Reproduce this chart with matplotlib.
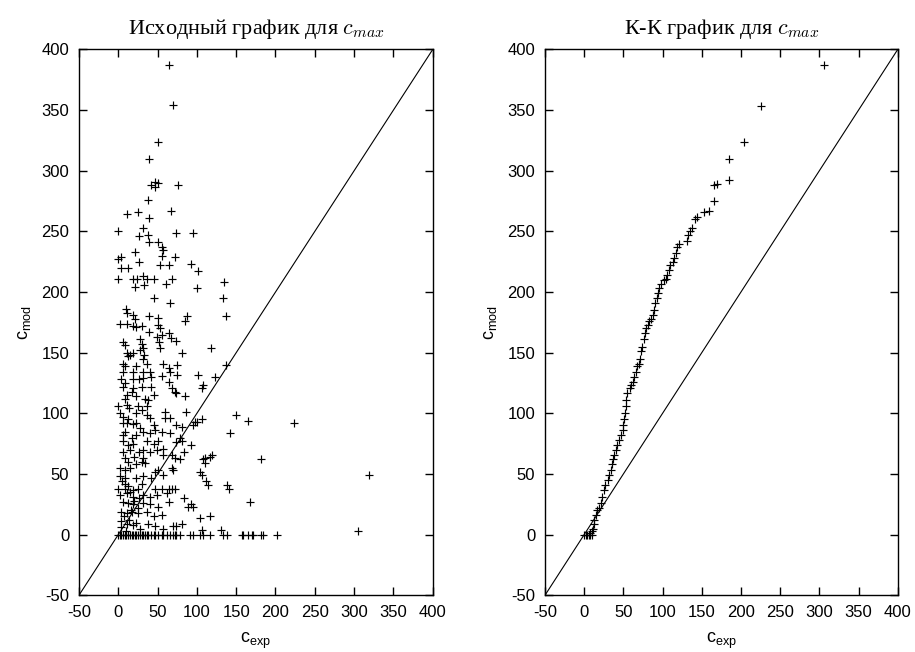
import numpy as np
import matplotlib.pyplot as plt

# points of the raw scatter: (c_exp, c_mod)
raw_points = [
    # upper sparse part
    (64, 387), (69, 354), (50, 324), (39, 310), (42, 288), (47, 291), (50, 290), (47, 287),
    (76, 288), (38, 276), (11, 264), (25, 266), (39, 261), (67, 267), (0, 250), (32, 253),
    (27, 246), (38, 247), (73, 249), (95, 249), (39, 241), (50, 241), (55, 237), (57, 235),
    (21, 233), (4, 229), (0, 227), (27, 225), (55, 230), (72, 229), (3, 220), (13, 220),
    (53, 222), (65, 222), (93, 223), (102, 217), (0, 211), (19, 211), (24, 211), (31, 213),
    (36, 211), (45, 211), (68, 211), (61, 207), (21, 204), (33, 206), (100, 203), (134, 208),
    # 130 .. 200
    (45, 195), (66, 191), (133, 195), (10, 186), (11, 183), (19, 181), (21, 178), (39, 180),
    (51, 179), (88, 180), (85, 176), (137, 180), (2, 174), (11, 174), (19, 172), (23, 171),
    (30, 172), (51, 173), (53, 170), (39, 167), (49, 163), (55, 165), (65, 166), (67, 162),
    (73, 160), (52, 159), (6, 159), (9, 156), (28, 161), (30, 157), (31, 154), (53, 154),
    (28, 152), (33, 148), (11, 150), (15, 148), (19, 150), (13, 147), (32, 145), (81, 150),
    (118, 154), (6, 141), (9, 139), (23, 139), (36, 141), (57, 141), (65, 137), (75, 140),
    (137, 140),
    # 100 .. 135
    (6, 134), (19, 134), (32, 134), (40, 134), (55, 131), (66, 134), (75, 132), (102, 132),
    (123, 130), (4, 128), (9, 125), (19, 128), (32, 129), (42, 130), (64, 126), (108, 123),
    (106, 121), (6, 122), (19, 121), (30, 122), (42, 122), (68, 121), (72, 118), (74, 117),
    (85, 114), (11, 115), (23, 114), (34, 112), (38, 111), (45, 115), (0, 106), (11, 107),
    (25, 106), (30, 103), (36, 106), (59, 101), (86, 101), (150, 99), (14, 104), (8, 112),
    (18, 118), (27, 128),
    # 60 .. 100
    (2, 100), (6, 97), (13, 95), (23, 100), (36, 99), (40, 96), (59, 96), (66, 96),
    (100, 93), (106, 95), (98, 93), (165, 94), (224, 92), (6, 92), (11, 92), (19, 91),
    (23, 92), (45, 90), (74, 90), (81, 89), (95, 90), (9, 85), (6, 82), (23, 82),
    (32, 85), (40, 84), (47, 86), (55, 85), (66, 84), (142, 84), (78, 80), (6, 77),
    (13, 74), (19, 75), (36, 77), (45, 75), (51, 77), (74, 76), (81, 77), (93, 74),
    (6, 68), (15, 70), (32, 70), (40, 68), (49, 70), (57, 71), (57, 66), (68, 66),
    (83, 68), (119, 66), (9, 63), (32, 63), (72, 63), (110, 63), (182, 62), (17, 80),
    (28, 88), (12, 60), (20, 64), (26, 68),
    # 0 .. 60
    (78, 62), (108, 62), (110, 59), (117, 64), (2, 55), (9, 53), (15, 55), (23, 58),
    (30, 60), (34, 59), (51, 53), (47, 52), (68, 55), (70, 53), (104, 52), (106, 49),
    (2, 48), (9, 47), (23, 47), (32, 48), (42, 47), (57, 49), (112, 44), (114, 41),
    (138, 41), (141, 38), (0, 38), (9, 38), (19, 37), (25, 38), (47, 38), (55, 38),
    (64, 38), (68, 38), (72, 38), (2, 33), (11, 34), (19, 31), (32, 33), (40, 31),
    (49, 33), (62, 34), (83, 30), (89, 23), (93, 25), (95, 23), (6, 27), (13, 26),
    (19, 25), (32, 26), (40, 25), (51, 23), (64, 27), (167, 27), (4, 19), (11, 18),
    (17, 19), (25, 18), (36, 19), (45, 15), (55, 16), (104, 14), (117, 15), (81, 9),
    (74, 7), (4, 11), (11, 9), (19, 8), (38, 9), (47, 7), (57, 5), (70, 7),
    (106, 4), (131, 4), (305, 3), (319, 49), (5, 44), (8, 42), (12, 40), (15, 35),
    (20, 28), (25, 22), (7, 15), (14, 12), (22, 10), (28, 5), (10, 3), (3, 6),
    (16, 20), (27, 30), (30, 42),
    # row at c_mod = 0
    (0, 0), (2, 0), (4, 0), (6, 0), (8, 0), (10, 0), (13, 0), (15, 0), (17, 0), (19, 0),
    (21, 0), (23, 0), (25, 0), (28, 0), (30, 0), (32, 0), (34, 0), (36, 0), (38, 0),
    (42, 0), (45, 0), (47, 0), (51, 0), (55, 0), (57, 0), (62, 0), (66, 0), (70, 0),
    (72, 0), (74, 0), (78, 0), (91, 0), (95, 0), (104, 0), (108, 0), (117, 0), (133, 0),
    (138, 0), (157, 0), (159, 0), (165, 0), (170, 0), (172, 0), (181, 0), (184, 0), (202, 0),
]
c_exp = [p[0] for p in raw_points]
c_mod = [p[1] for p in raw_points]

# quantile-quantile points
qq_exp = [306, 225, 204, 185, 185, 170, 166, 166, 159, 153, 144, 142, 138, 135, 133, 131,
          121, 119, 117, 115, 113, 110, 108, 106, 104, 102, 98, 96, 94, 93, 91, 89,
          88, 85, 83, 81, 79, 77, 76, 74, 72, 71, 70, 68, 66, 64, 62, 60,
          58, 55, 54, 53, 52, 51, 50, 49, 47, 45, 42, 40, 38, 37, 36, 34,
          32, 30, 27, 25, 23, 21, 19, 17, 15, 13, 12, 11, 10, 8, 6, 4,
          2, 0, 10, 8]
qq_mod = [387, 353, 324, 310, 292, 289, 288, 275, 267, 266, 262, 260, 253, 250, 247, 242,
          240, 237, 232, 228, 225, 222, 218, 214, 211, 210, 207, 203, 199, 195, 191, 185,
          181, 178, 176, 173, 170, 166, 161, 155, 151, 145, 141, 139, 134, 130, 126, 123,
          121, 117, 111, 106, 100, 95, 90, 86, 82, 78, 74, 70, 66, 62, 58, 53,
          49, 45, 41, 37, 31, 26, 22, 20, 16, 12, 9, 5, 3, 1, 0, 0,
          0, 0, 0, 0]

ticks = np.arange(-50, 401, 50)
diag = [-50, 400]

plt.rcParams['font.family'] = 'Liberation Sans'
plt.rcParams['axes.unicode_minus'] = False
plt.rcParams['mathtext.fontset'] = 'custom'
plt.rcParams['mathtext.rm'] = 'Liberation Sans'
plt.rcParams['mathtext.it'] = 'Liberation Sans:italic'

fig = plt.figure(figsize=(9.15, 6.52), dpi=100)
ax1 = fig.add_axes([0.0863, 0.087, 0.3866, 0.8371])
ax2 = fig.add_axes([0.5956, 0.087, 0.3855, 0.8371])

panels = [
    (ax1, c_exp, c_mod, 'Исходный график для $c_{max}$'),
    (ax2, qq_exp, qq_mod, 'К-К график для $c_{max}$'),
]
for ax, xs, ys, title in panels:
    ax.plot(diag, diag, color='black', lw=0.8)
    ax.plot(xs, ys, linestyle='none', marker='+', color='black', ms=6, mew=0.85)
    ax.set_xlim(-50, 400)
    ax.set_ylim(-50, 400)
    ax.set_xticks(ticks)
    ax.set_yticks(ticks)
    ax.tick_params(direction='in', top=True, right=True, length=6, width=1,
                   labelsize=12, pad=7)
    for s in ax.spines.values():
        s.set_linewidth(1)
    ax.set_xlabel(r'c$_{\rm exp}$', fontsize=13, labelpad=8)
    ax.set_ylabel(r'c$_{\rm mod}$', fontsize=13, labelpad=6)
    ax.set_title(title, fontsize=16, family='Liberation Serif', math_fontfamily='cm', pad=11)

fig.savefig('out.png', dpi=100)
